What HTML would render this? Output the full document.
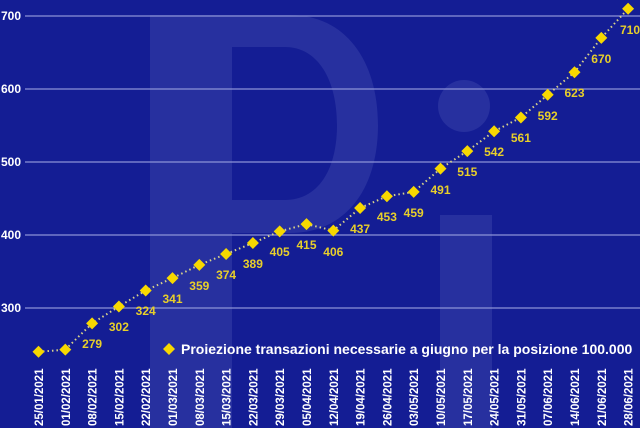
<!DOCTYPE html>
<html><head><meta charset="utf-8"><style>
html,body{margin:0;padding:0;background:#141d94;}
svg{display:block}
</style></head><body>
<svg width="640" height="428" xmlns="http://www.w3.org/2000/svg" xmlns:xlink="http://www.w3.org/1999/xlink">
<defs><path id="dm" d="M0 -6 L6 0 L0 6 L-6 0 Z" fill="#f7d800"/></defs>
<rect width="640" height="428" fill="#141d94"/>
<g fill="#27309f">
<path d="M150 15 H290 C345 15 378 60 378 125 C378 190 345 233 290 233 H232 V428 H150 Z M232 47 V200 H285 C318 200 337 170 337 125 C337 80 318 47 285 47 Z" fill-rule="evenodd"/>
<circle cx="464" cy="106" r="26"/>
<rect x="440" y="215" width="52" height="213"/>
</g>
<g stroke="#8c93d6" stroke-width="1.2">
<line x1="25" y1="16" x2="640" y2="16"/>
<line x1="25" y1="89" x2="640" y2="89"/>
<line x1="25" y1="162" x2="640" y2="162"/>
<line x1="25" y1="235" x2="640" y2="235"/>
<line x1="25" y1="308" x2="640" y2="308"/>
</g>
<g font-family="Liberation Sans, sans-serif" font-weight="bold" font-size="12" fill="#fff">
<text x="1" y="20">700</text><text x="1" y="93">600</text><text x="1" y="166">500</text><text x="1" y="239">400</text><text x="1" y="312">300</text>
</g>
<polyline fill="none" stroke="#d8d28a" stroke-width="2" stroke-dasharray="1.5 3" points="38.5,351.8 65.3,349.6 92.1,323.4 118.9,306.5 145.7,290.5 172.5,278.1 199.3,264.9 226.1,254 252.9,243 279.7,231.4 306.5,224.1 333.3,230.6 360.1,208 386.9,196.3 413.7,191.9 440.5,168.6 467.3,151.1 494.1,131.3 520.9,117.5 547.7,94.8 574.5,72.2 601.3,37.9 628.1,8.7"/>
<g>
<use xlink:href="#dm" x="38.5" y="351.8"/><use xlink:href="#dm" x="65.3" y="349.6"/><use xlink:href="#dm" x="92.1" y="323.4"/><use xlink:href="#dm" x="118.9" y="306.5"/><use xlink:href="#dm" x="145.7" y="290.5"/><use xlink:href="#dm" x="172.5" y="278.1"/><use xlink:href="#dm" x="199.3" y="264.9"/><use xlink:href="#dm" x="226.1" y="254"/><use xlink:href="#dm" x="252.9" y="243"/><use xlink:href="#dm" x="279.7" y="231.4"/><use xlink:href="#dm" x="306.5" y="224.1"/><use xlink:href="#dm" x="333.3" y="230.6"/><use xlink:href="#dm" x="360.1" y="208"/><use xlink:href="#dm" x="386.9" y="196.3"/><use xlink:href="#dm" x="413.7" y="191.9"/><use xlink:href="#dm" x="440.5" y="168.6"/><use xlink:href="#dm" x="467.3" y="151.1"/><use xlink:href="#dm" x="494.1" y="131.3"/><use xlink:href="#dm" x="520.9" y="117.5"/><use xlink:href="#dm" x="547.7" y="94.8"/><use xlink:href="#dm" x="574.5" y="72.2"/><use xlink:href="#dm" x="601.3" y="37.9"/><use xlink:href="#dm" x="628.1" y="8.7"/>
</g>
<g font-family="Liberation Sans, sans-serif" font-weight="bold" font-size="12" fill="#e8cf2a" text-anchor="middle">
<text x="92.1" y="348">279</text><text x="118.9" y="331">302</text><text x="145.7" y="315">324</text><text x="172.5" y="303">341</text><text x="199.3" y="290">359</text><text x="226.1" y="279">374</text><text x="252.9" y="268">389</text><text x="279.7" y="256">405</text><text x="306.5" y="249">415</text><text x="333.3" y="256">406</text><text x="360.1" y="233">437</text><text x="386.9" y="221">453</text><text x="413.7" y="217">459</text><text x="440.5" y="194">491</text><text x="467.3" y="176">515</text><text x="494.1" y="156">542</text><text x="520.9" y="142">561</text><text x="547.7" y="120">592</text><text x="574.5" y="97">623</text><text x="601.3" y="63">670</text><text x="630" y="34">710</text>
</g>
<g font-family="Liberation Sans, sans-serif" font-weight="bold">
<use xlink:href="#dm" x="169" y="349"/>
<text x="181" y="354" font-size="14" fill="#fff">Proiezione transazioni necessarie a giugno per la posizione 100.000</text>
</g>
<g font-family="Liberation Sans, sans-serif" font-weight="bold" font-size="11.5" fill="#fff">
<text transform="translate(43,426) rotate(-90)">25/01/2021</text>
<text transform="translate(69.8,426) rotate(-90)">01/02/2021</text>
<text transform="translate(96.6,426) rotate(-90)">08/02/2021</text>
<text transform="translate(123.4,426) rotate(-90)">15/02/2021</text>
<text transform="translate(150.2,426) rotate(-90)">22/02/2021</text>
<text transform="translate(177,426) rotate(-90)">01/03/2021</text>
<text transform="translate(203.8,426) rotate(-90)">08/03/2021</text>
<text transform="translate(230.6,426) rotate(-90)">15/03/2021</text>
<text transform="translate(257.4,426) rotate(-90)">22/03/2021</text>
<text transform="translate(284.2,426) rotate(-90)">29/03/2021</text>
<text transform="translate(311,426) rotate(-90)">05/04/2021</text>
<text transform="translate(337.8,426) rotate(-90)">12/04/2021</text>
<text transform="translate(364.6,426) rotate(-90)">19/04/2021</text>
<text transform="translate(391.4,426) rotate(-90)">26/04/2021</text>
<text transform="translate(418.2,426) rotate(-90)">03/05/2021</text>
<text transform="translate(445,426) rotate(-90)">10/05/2021</text>
<text transform="translate(471.8,426) rotate(-90)">17/05/2021</text>
<text transform="translate(498.6,426) rotate(-90)">24/05/2021</text>
<text transform="translate(525.4,426) rotate(-90)">31/05/2021</text>
<text transform="translate(552.2,426) rotate(-90)">07/06/2021</text>
<text transform="translate(579,426) rotate(-90)">14/06/2021</text>
<text transform="translate(605.8,426) rotate(-90)">21/06/2021</text>
<text transform="translate(632.6,426) rotate(-90)">28/06/2021</text>
</g>
</svg>
</body></html>
